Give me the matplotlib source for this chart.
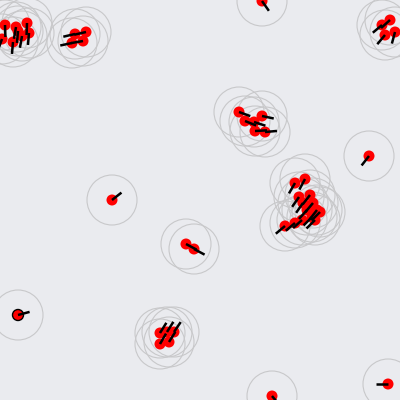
import numpy as np
import matplotlib.pyplot as plt
from matplotlib.patches import Circle

# boid positions (pixels, y down) and headings (degrees, 0 = right, 90 = down)
boid_x = [5, 16, 18, 27, 29, 22, 13, 2,
          86, 75, 83, 72,
          239, 245, 254, 262, 255, 265,
          295, 305, 299, 310, 303, 313, 307, 317, 320, 312, 302, 285, 295, 315,
          160, 167, 174, 160, 169,
          382, 390, 385, 395,
          262, 369, 112, 186, 194, 18, 388, 272]
boid_y = [25, 27, 31, 23, 33, 36, 42, 39,
          32, 34, 41, 43,
          112, 121, 122, 116, 131, 132,
          183, 179, 197, 195, 203, 203, 210, 210, 212, 217, 220, 226, 223, 220,
          333, 332, 332, 344, 342,
          25, 20, 35, 32,
          1, 156, 200, 244, 249, 315, 384, 396]
heading = [88, 100, 95, 92, 95, 100, 95, 110,
           167, 167, 170, 168,
           20, 22, 18, 12, -3, -5,
           120, 118, 125, 128, 125, 130, 132, 128, 135, 135, 138, 140, 140, 135,
           -58, -58, -56, -60, -58,
           140, 138, 130, 105,
           55, 128, -38, 28, 28, -15, 180, 50]

selected = 46  # boid drawn with an outline

fig = plt.figure(figsize=(4, 4), dpi=100)
ax = fig.add_axes([0, 0, 1, 1])
ax.set_facecolor('#eaebef')
fig.patch.set_facecolor('#eaebef')
ax.set_xlim(0, 400)
ax.set_ylim(400, 0)
ax.set_aspect('equal')
ax.axis('off')

for i in range(len(boid_x)):
    x, y = boid_x[i], boid_y[i]
    a = np.radians(heading[i])
    # perception radius
    ax.add_patch(Circle((x, y), 25, fill=False, edgecolor='#c8c8ca', lw=0.8, zorder=1))
    ec = 'black' if i == selected else 'none'
    ax.add_patch(Circle((x, y), 5.5, facecolor='#ff0000', edgecolor=ec, lw=1, zorder=2))
    ax.plot([x, x + 12 * np.cos(a)], [y, y + 12 * np.sin(a)], color='black', lw=1.8,
            solid_capstyle='butt', zorder=3)

fig.savefig('out.png', dpi=100, facecolor=fig.get_facecolor())
